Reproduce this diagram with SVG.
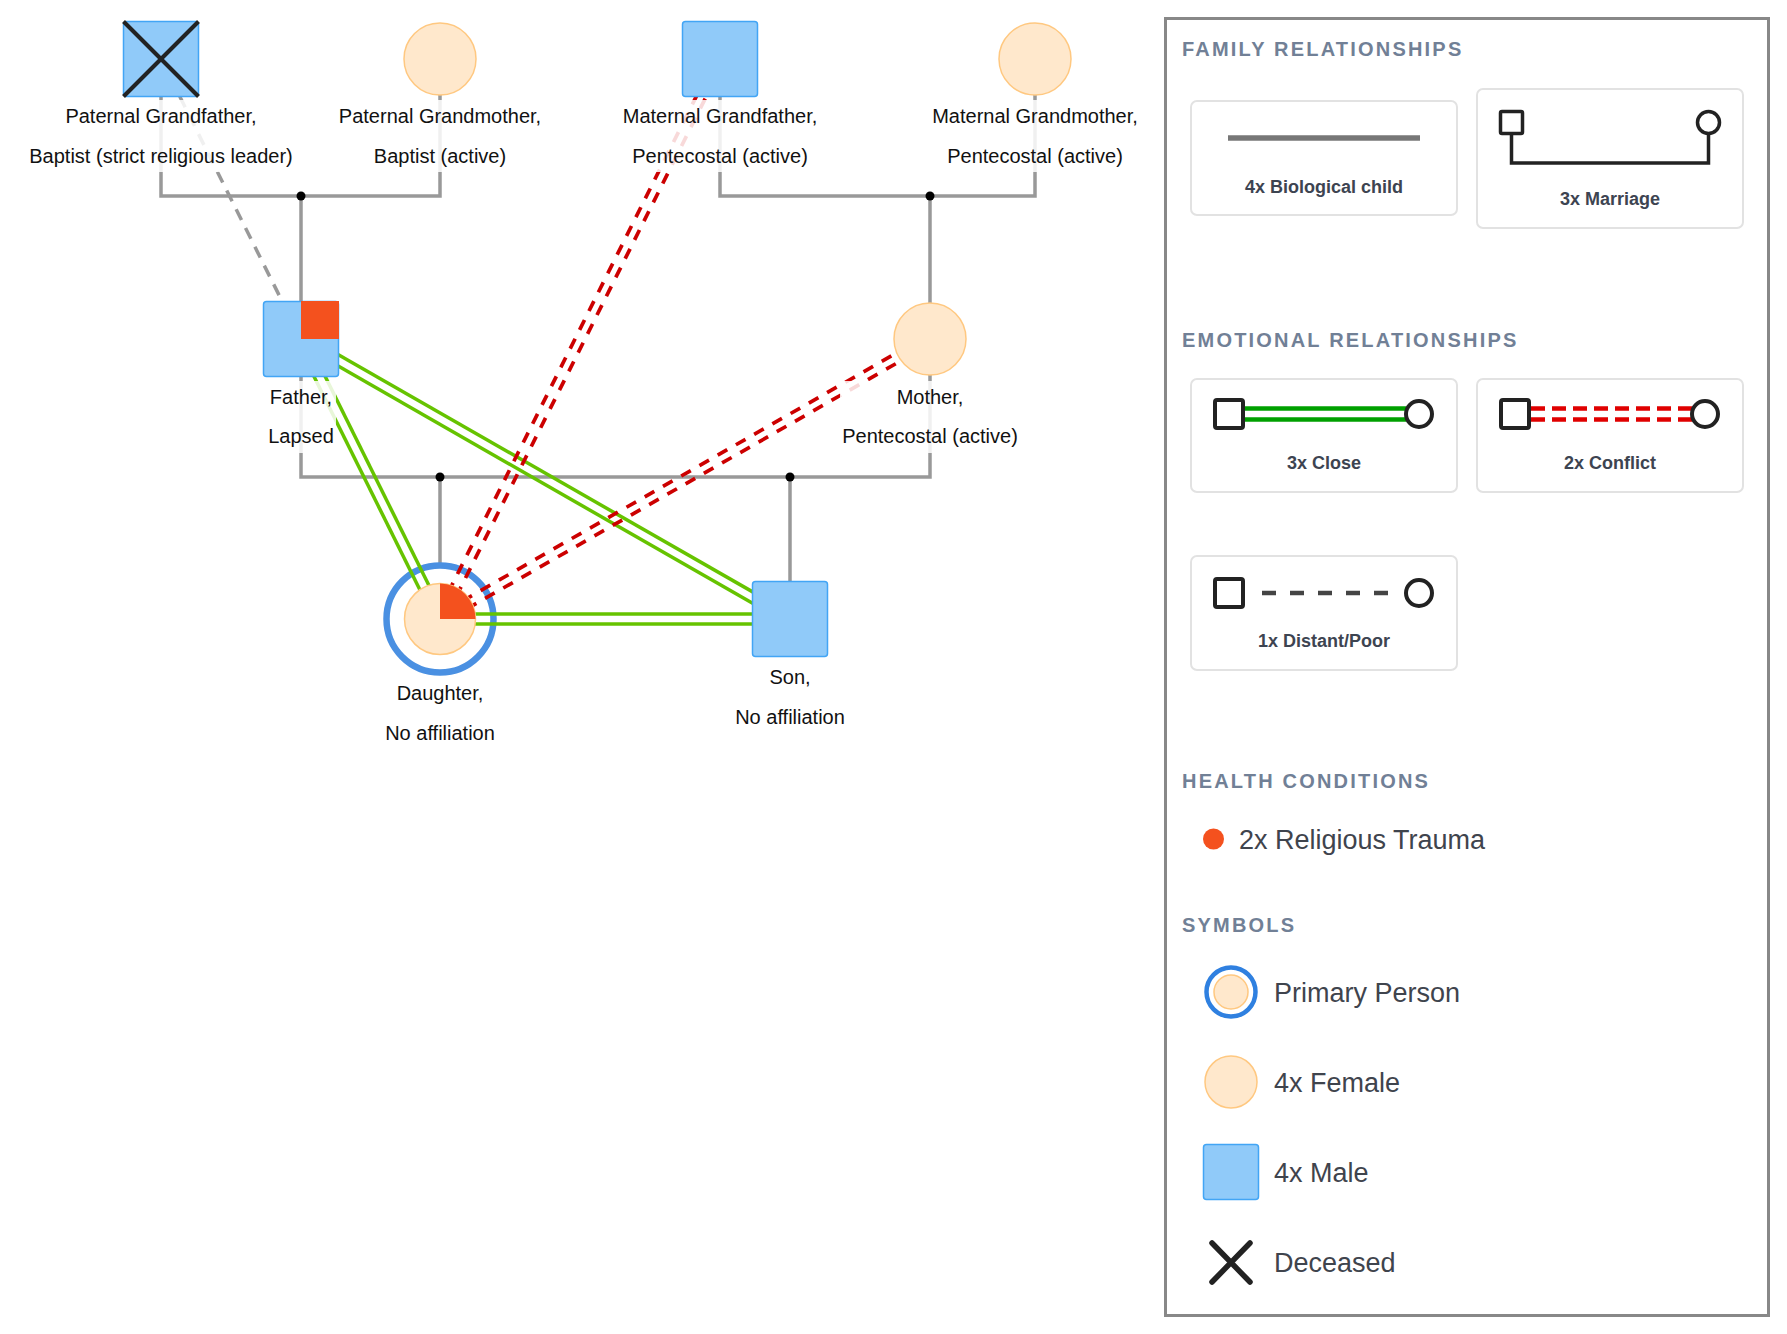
<svg xmlns="http://www.w3.org/2000/svg" width="1787" height="1334" viewBox="0 0 1787 1334">
<style>
text{font-family:"Liberation Sans",Arial,Helvetica,sans-serif}
.lbl{font-size:20px;fill:#111;text-anchor:middle;dominant-baseline:central}
.lbg{fill:#fff;fill-opacity:0.85}
.male{fill:#90CAF9;stroke:#42A5F5;stroke-width:1.5}
.female{fill:#FFE8CC;stroke:#FFC880;stroke-width:1.5}
.trauma{fill:#F4511E}
.fam{fill:none;stroke:#999;stroke-width:3.5}
.dot{fill:#000}
.close{stroke:#66C300;stroke-width:3.5;fill:none}
.conflict{stroke:#CC0000;stroke-width:3.7;stroke-dasharray:11 10;fill:none}
.distant{stroke:#999;stroke-width:3.5;stroke-dasharray:12 9;fill:none}
.hdr{font-size:20px;font-weight:bold;fill:#718096;letter-spacing:2.2px}
.card{fill:#fff;stroke:#e2e2e2;stroke-width:2}
.ctxt{font-size:18px;font-weight:bold;fill:#3d4451;text-anchor:middle;dominant-baseline:central}
.sym{fill:#fff;stroke:#222;stroke-width:4}
.stxt{font-size:27px;fill:#3f444d;dominant-baseline:central}
</style>

<g id="connectors">
  <path class="fam" d="M161,96 V196 H440 V95"/>
  <path class="fam" d="M301,196 V302"/>
  <path class="fam" d="M720,96 V196 H1035 V95"/>
  <path class="fam" d="M930,196 V303"/>
  <path class="fam" d="M301,376 V477 H930 V375"/>
  <path class="fam" d="M440,477 V565"/>
  <path class="fam" d="M790,477 V582"/>
  <circle class="dot" cx="301" cy="196" r="4.5"/>
  <circle class="dot" cx="930" cy="196" r="4.5"/>
  <circle class="dot" cx="440" cy="477" r="4.5"/>
  <circle class="dot" cx="790" cy="477" r="4.5"/>
</g>

<g id="primary-ring">
  <circle cx="440" cy="619" r="53.5" fill="none" stroke="#4A90E2" stroke-width="6.5"/>
</g>

<g id="emotional">
  <line class="distant" x1="161" y1="59" x2="301" y2="339"/>
  <line class="close" x1="305.5" y1="336.8" x2="444.5" y2="616.8"/>
  <line class="close" x1="296.5" y1="341.2" x2="435.5" y2="621.2"/>
  <line class="close" x1="303.5" y1="334.7" x2="792.5" y2="614.7"/>
  <line class="close" x1="298.5" y1="343.3" x2="787.5" y2="623.3"/>
  <line class="close" x1="440" y1="614" x2="790" y2="614"/>
  <line class="close" x1="440" y1="624" x2="790" y2="624"/>
  <line class="conflict" x1="724" y1="61" x2="444" y2="621"/>
  <line class="conflict" x1="716" y1="57" x2="436" y2="617"/>
  <line class="conflict" x1="932.2" y1="342.9" x2="442.2" y2="622.9"/>
  <line class="conflict" x1="927.8" y1="335.1" x2="437.8" y2="615.1"/>
</g>

<g id="node-pgf">
  <rect class="male" x="123.5" y="21.5" width="75" height="75" rx="3"/>
  <line x1="123.5" y1="21.5" x2="198.5" y2="96.5" stroke="#222" stroke-width="4"/>
  <line x1="198.5" y1="21.5" x2="123.5" y2="96.5" stroke="#222" stroke-width="4"/>
  <rect class="lbg" x="26" y="100" width="270" height="72"/>
  <text class="lbl" x="161" y="116">Paternal Grandfather,</text>
  <text class="lbl" x="161" y="156">Baptist (strict religious leader)</text>
</g>

<g id="node-pgm">
  <circle class="female" cx="440" cy="59" r="36"/>
  <rect class="lbg" x="336" y="100" width="208" height="72"/>
  <text class="lbl" x="440" y="116">Paternal Grandmother,</text>
  <text class="lbl" x="440" y="156">Baptist (active)</text>
</g>

<g id="node-mgf">
  <rect class="male" x="682.5" y="21.5" width="75" height="75" rx="3"/>
  <rect class="lbg" x="620" y="100" width="200" height="72"/>
  <text class="lbl" x="720" y="116">Maternal Grandfather,</text>
  <text class="lbl" x="720" y="156">Pentecostal (active)</text>
</g>

<g id="node-mgm">
  <circle class="female" cx="1035" cy="59" r="36"/>
  <rect class="lbg" x="930" y="100" width="210" height="72"/>
  <text class="lbl" x="1035" y="116">Maternal Grandmother,</text>
  <text class="lbl" x="1035" y="156">Pentecostal (active)</text>
</g>

<g id="node-father">
  <rect class="male" x="263.5" y="301.5" width="75" height="75" rx="3"/>
  <rect class="trauma" x="301" y="301" width="38" height="38"/>
  <rect class="lbg" x="266" y="381" width="70" height="72"/>
  <text class="lbl" x="301" y="397">Father,</text>
  <text class="lbl" x="301" y="436">Lapsed</text>
</g>

<g id="node-mother">
  <circle class="female" cx="930" cy="339" r="36"/>
  <rect class="lbg" x="840" y="381" width="180" height="72"/>
  <text class="lbl" x="930" y="397">Mother,</text>
  <text class="lbl" x="930" y="436">Pentecostal (active)</text>
</g>

<g id="node-daughter">
  <circle class="female" cx="440" cy="619" r="35.5"/>
  <path class="trauma" d="M440,619 V583.5 A35.5,35.5 0 0 1 475.5,619 Z"/>
  <rect class="lbg" x="375" y="677" width="130" height="72"/>
  <text class="lbl" x="440" y="693">Daughter,</text>
  <text class="lbl" x="440" y="733">No affiliation</text>
</g>

<g id="node-son">
  <rect class="male" x="752.5" y="581.5" width="75" height="75" rx="3"/>
  <rect class="lbg" x="725" y="661" width="130" height="72"/>
  <text class="lbl" x="790" y="677">Son,</text>
  <text class="lbl" x="790" y="717">No affiliation</text>
</g>

<g id="legend">
  <rect x="1165.5" y="18.5" width="603" height="1297" fill="#fff" stroke="#888" stroke-width="3"/>
  <text class="hdr" x="1182" y="56">FAMILY RELATIONSHIPS</text>

  <rect class="card" x="1191" y="101" width="266" height="114" rx="6"/>
  <line x1="1228" y1="138" x2="1420" y2="138" stroke="#777" stroke-width="5.5"/>
  <text class="ctxt" x="1324" y="187">4x Biological child</text>

  <rect class="card" x="1477" y="89" width="266" height="139" rx="6"/>
  <path d="M1511.5,134 V163 H1708.5 V134" fill="none" stroke="#222" stroke-width="3.5"/>
  <rect x="1500.5" y="111.5" width="22" height="22" rx="1.5" fill="#fff" stroke="#222" stroke-width="3.5"/>
  <circle cx="1708.5" cy="122.5" r="11" fill="#fff" stroke="#222" stroke-width="3.5"/>
  <text class="ctxt" x="1610" y="199">3x Marriage</text>

  <text class="hdr" x="1182" y="347">EMOTIONAL RELATIONSHIPS</text>

  <rect class="card" x="1191" y="379" width="266" height="113" rx="6"/>
  <line x1="1244" y1="408.5" x2="1406" y2="408.5" stroke="#00A000" stroke-width="4.5"/>
  <line x1="1244" y1="419.5" x2="1406" y2="419.5" stroke="#00A000" stroke-width="4.5"/>
  <rect class="sym" x="1215" y="400" width="28" height="28" rx="2"/>
  <circle class="sym" cx="1419" cy="414" r="13"/>
  <text class="ctxt" x="1324" y="463">3x Close</text>

  <rect class="card" x="1477" y="379" width="266" height="113" rx="6"/>
  <line x1="1531" y1="408.5" x2="1692" y2="408.5" stroke="#E00000" stroke-width="4.5" stroke-dasharray="14 7"/>
  <line x1="1531" y1="419.5" x2="1692" y2="419.5" stroke="#E00000" stroke-width="4.5" stroke-dasharray="14 7"/>
  <rect class="sym" x="1501" y="400" width="28" height="28" rx="2"/>
  <circle class="sym" cx="1705" cy="414" r="13"/>
  <text class="ctxt" x="1610" y="463">2x Conflict</text>

  <rect class="card" x="1191" y="556" width="266" height="114" rx="6"/>
  <line x1="1262" y1="593" x2="1392" y2="593" stroke="#444" stroke-width="4.5" stroke-dasharray="14 14"/>
  <rect class="sym" x="1215" y="579" width="28" height="28" rx="2"/>
  <circle class="sym" cx="1419" cy="593" r="13"/>
  <text class="ctxt" x="1324" y="641">1x Distant/Poor</text>

  <text class="hdr" x="1182" y="788">HEALTH CONDITIONS</text>
  <circle class="trauma" cx="1213.5" cy="839" r="10.5"/>
  <text class="stxt" x="1239" y="840">2x Religious Trauma</text>

  <text class="hdr" x="1182" y="932">SYMBOLS</text>
  <circle cx="1231" cy="992" r="24.5" fill="#fff" stroke="#2F80E0" stroke-width="4.5"/>
  <circle class="female" cx="1231" cy="992" r="17"/>
  <text class="stxt" x="1274" y="993">Primary Person</text>

  <circle class="female" cx="1231" cy="1082" r="26"/>
  <text class="stxt" x="1274" y="1083">4x Female</text>

  <rect class="male" x="1203.5" y="1144.5" width="55" height="55" rx="3"/>
  <text class="stxt" x="1274" y="1173">4x Male</text>

  <path d="M1212,1243 L1250,1282 M1250,1243 L1212,1282" stroke="#222" stroke-width="5.5" stroke-linecap="round"/>
  <text class="stxt" x="1274" y="1263">Deceased</text>
</g>
</svg>
